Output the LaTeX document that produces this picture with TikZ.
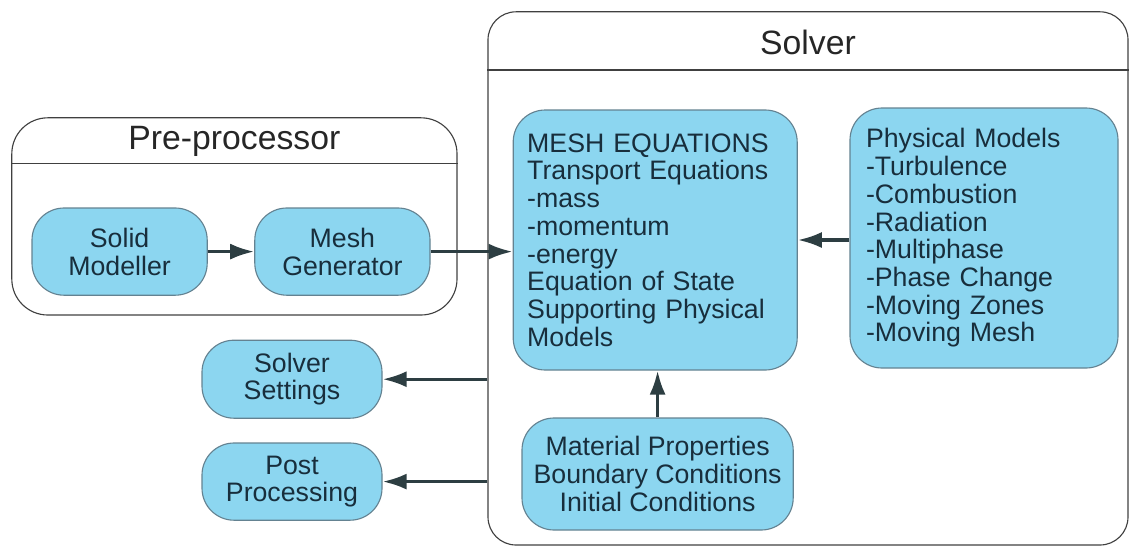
\documentclass[tikz,border=0pt]{standalone}
\usepackage{fontspec}
\setmainfont{Liberation Sans}
\usepackage{xcolor}
\usepackage{tikz}
\usetikzlibrary{shapes,arrows.meta,positioning,calc}
\definecolor{boxblue}{RGB}{140,214,240}
\definecolor{boxedge}{RGB}{100,130,145}
\definecolor{textslate}{RGB}{24,46,60}
\definecolor{arrowgray}{RGB}{45,62,66}

\begin{document}
\begin{tikzpicture}[
    stage/.style={rectangle, draw=black!75, line width=0.8pt, rounded corners=0.9cm},
    title/.style={font=\fontsize{24}{28}\selectfont, text=black!85},
    box/.style={rectangle, draw=boxedge, line width=0.8pt, fill=boxblue, rounded corners=0.8cm,
                text=textslate, font=\fontsize{19}{19.7}\selectfont, align=center, inner sep=0pt},
    listbox/.style={box, align=left},
    arrow/.style={-{Latex[length=0.6cm,width=0.4cm]}, line width=2.4pt, draw=arrowgray}
]
    \useasboundingbox (0,0) rectangle (28.25,-13.7);

    % Outer frames
    \node[stage, minimum width=11.13cm, minimum height=4.93cm] (pre) at (5.86,-5.41) {};
    \draw[black!75, line width=0.8pt] (pre.west |- 0,-4.08) -- (pre.east |- 0,-4.08);
    \node[title] (pretitle) at (5.86,-3.53) {Pre-processor};

    \node[stage, rounded corners=0.7cm, minimum width=16cm, minimum height=13.33cm] (solver) at (20.2,-6.96) {};
    \draw[black!75, line width=0.8pt] (solver.west |- 0,-1.75) -- (solver.east |- 0,-1.75);
    \node[title] (soltitle) at (20.2,-1.05) {Solver};

    % Pre-processor components
    \node[box, minimum width=4.38cm, minimum height=2.18cm] (solid) at (2.99,-6.29) {Solid\\Modeller};
    \node[box, minimum width=4.38cm, minimum height=2.18cm] (mgen) at (8.56,-6.29) {Mesh\\Generator};

    % Solver components
    \node[listbox, text width=6.4cm, minimum width=7.1cm, minimum height=6.5cm] (meq) at (16.38,-6.0)
        {MESH EQUATIONS\\Transport Equations\\-mass\\-momentum\\-energy\\Equation of State\\Supporting Physical\\Models};
    \node[listbox, text width=5.9cm, minimum width=6.7cm, minimum height=6.5cm] (phys) at (24.6,-5.95)
        {Physical Models\\-Turbulence\\-Combustion\\-Radiation\\-Multiphase\\-Phase Change\\-Moving Zones\\-Moving Mesh};
    \node[box, minimum width=6.78cm, minimum height=2.8cm] (mat) at (16.44,-11.85)
        {Material Properties\\Boundary Conditions\\Initial Conditions};

    % Outputs
    \node[box, minimum width=4.5cm, minimum height=1.95cm] (settings) at (7.3,-9.48) {Solver\\Settings};
    \node[box, minimum width=4.5cm, minimum height=1.93cm] (post) at (7.3,-12.04) {Post\\Processing};

    % Connections
    \draw[arrow] (solid) -- (mgen);
    \draw[arrow] (mgen.east) -- (mgen.east -| meq.west);
    \draw[arrow] (phys.west |- meq.east) -- (meq.east);
    \draw[arrow] (mat.north) -- (mat.north |- meq.south);
    \draw[arrow] (solver.west |- settings.east) -- (settings.east);
    \draw[arrow] (solver.west |- post.east) -- (post.east);

\end{tikzpicture}
\end{document}
